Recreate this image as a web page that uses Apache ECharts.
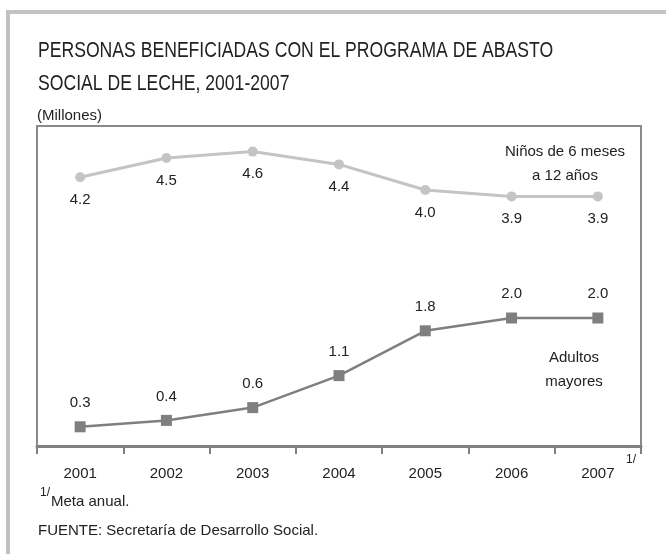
<!DOCTYPE html>
<html>
<head>
<meta charset="utf-8">
<script src="https://cdn.jsdelivr.net/npm/echarts@6/dist/echarts.min.js"></script>
<style>
html,body{margin:0;padding:0;background:#fff;}
#chart{width:666px;height:554px;}
</style>
</head>
<body>
<div id="chart"></div>
<script>
const years = ['2001','2002','2003','2004','2005','2006','2007'];
const ninos = [4.2, 4.5, 4.6, 4.4, 4.0, 3.9, 3.9];
const adultos = [0.3, 0.4, 0.6, 1.1, 1.8, 2.0, 2.0];
const ninosName = 'Niños de 6 meses\na 12 años';
const adultosName = 'Adultos\nmayores';
const titleLine1 = 'PERSONAS BENEFICIADAS CON EL PROGRAMA DE ABASTO';
const titleLine2 = 'SOCIAL DE LECHE, 2001-2007';

const FONT = '"Liberation Sans", sans-serif';

const chart = echarts.init(document.getElementById('chart'), null, {renderer:'canvas'});
chart.setOption({
  backgroundColor: '#fff',
  animation: false,
  grid: {left: 37, right: 25, top: 126, bottom: 108, show: true, borderColor: '#8a8a8a', borderWidth: 2},
  xAxis: {
    type: 'category', data: years, boundaryGap: true,
    axisLine: {lineStyle: {color: '#808080', width: 3}},
    axisTick: {show: true, length: 8, lineStyle: {color: '#808080', width: 2}},
    axisLabel: {margin: 20, fontFamily: FONT, fontSize: 15, color: '#222'}
  },
  yAxis: {
    type: 'value', min: 0, max: 5,
    axisLine: {show: false}, axisTick: {show: false}, axisLabel: {show: false}, splitLine: {show: false}
  },
  series: [{
    name: ninosName, type: 'line', data: ninos,
    symbol: 'circle', symbolSize: 10,
    lineStyle: {color: '#c4c4c4', width: 3},
    itemStyle: {color: '#c4c4c4'},
    label: {show: true, position: 'bottom', distance: 10, formatter: p => p.value.toFixed(1),
      fontFamily: FONT, fontSize: 15, color: '#222'}
  }, {
    name: adultosName, type: 'line', data: adultos,
    symbol: 'rect', symbolSize: 11,
    lineStyle: {color: '#7f7f7f', width: 2.5},
    itemStyle: {color: '#7f7f7f'},
    label: {show: true, position: 'top', distance: 11, formatter: p => p.value.toFixed(1),
      fontFamily: FONT, fontSize: 15, color: '#222'}
  }],
  graphic: [
    {type: 'rect', shape: {x: 6, y: 10, width: 4, height: 544}, style: {fill: '#c2c2c2'}},
    {type: 'rect', shape: {x: 6, y: 10, width: 660, height: 4}, style: {fill: '#c2c2c2'}},
    {type: 'text', x: 38, y: 40, scaleX: 0.8, style: {text: titleLine1, fontFamily: FONT, fontSize: 22, fill: '#222'}},
    {type: 'text', x: 38, y: 73, scaleX: 0.8, style: {text: titleLine2, fontFamily: FONT, fontSize: 22, fill: '#222'}},
    {type: 'text', style: {text: '(Millones)', x: 37, y: 108, fontFamily: FONT, fontSize: 15, fill: '#222'}},
    {type: 'text', style: {text: ninosName, x: 565, y: 140, align: 'center', fontFamily: FONT, fontSize: 15, fill: '#222', lineHeight: 24}},
    {type: 'text', style: {text: adultosName, x: 574, y: 346, align: 'center', fontFamily: FONT, fontSize: 15, fill: '#222', lineHeight: 24}},
    {type: 'text', style: {text: '1/', x: 626, y: 454, fontFamily: FONT, fontSize: 12, fill: '#222'}},
    {type: 'text', style: {text: '1/', x: 40, y: 487, fontFamily: FONT, fontSize: 12, fill: '#222'}},
    {type: 'text', style: {text: 'Meta anual.', x: 51, y: 494, fontFamily: FONT, fontSize: 15, fill: '#222'}},
    {type: 'text', style: {text: 'FUENTE: Secretaría de Desarrollo Social.', x: 38, y: 523, fontFamily: FONT, fontSize: 15, fill: '#222'}}
  ]
});
</script>
</body>
</html>
